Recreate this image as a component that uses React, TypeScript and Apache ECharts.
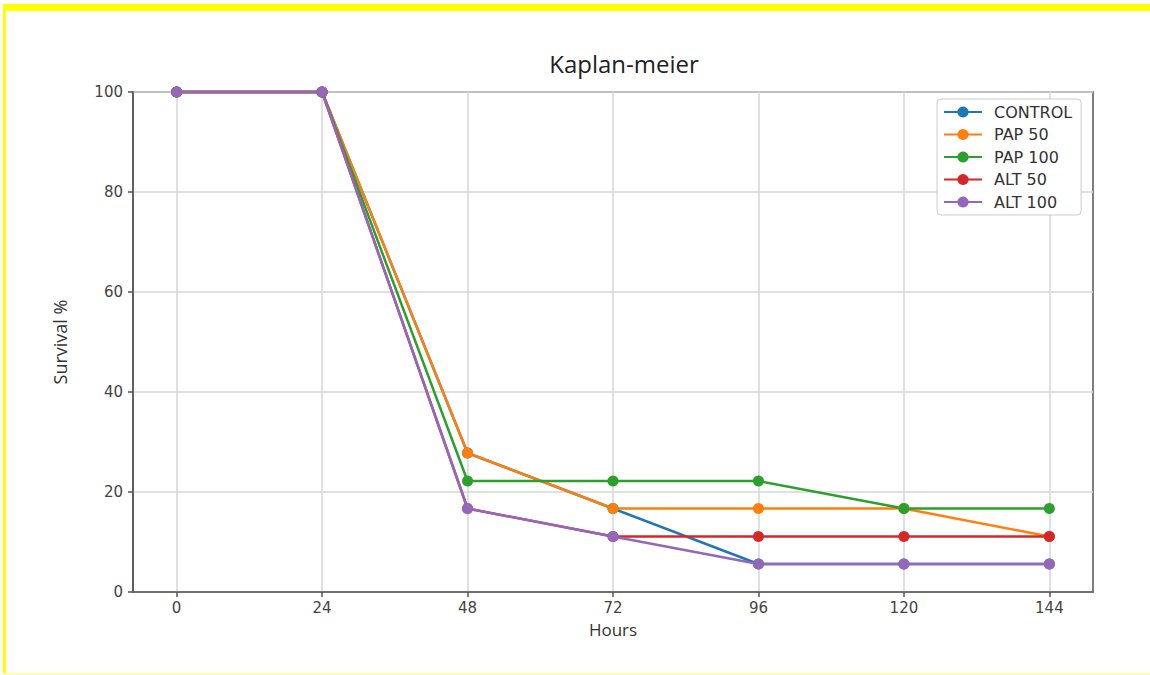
import React, { useEffect, useRef } from "react";
import * as echarts from "echarts";

const hours = [0, 24, 48, 72, 96, 120, 144];
const yTicks = [0, 20, 40, 60, 80, 100];
const seriesNames = ["CONTROL", "PAP 50", "PAP 100", "ALT 50", "ALT 100"];
const control = [100, 100, 27.8, 16.7, 5.6, 5.6, 5.6];
const pap50 = [100, 100, 27.8, 16.7, 16.7, 16.7, 11.1];
const pap100 = [100, 100, 22.2, 22.2, 22.2, 16.7, 16.7];
const alt50 = [100, 100, 16.7, 11.1, 11.1, 11.1, 11.1];
const alt100 = [100, 100, 16.7, 11.1, 5.6, 5.6, 5.6];
const colors = ["#1f77b4", "#ff7f0e", "#2ca02c", "#d62728", "#9467bd"];

export default function App() {
  const ref = useRef<HTMLDivElement>(null);
  useEffect(() => {
    if (!ref.current) return;
    const chart = echarts.init(ref.current, undefined, { renderer: "svg" });
    const allData = [control, pap50, pap100, alt50, alt100];
    const tickFont = { fontFamily: "DejaVu Sans", fontSize: 15, color: "#444" };
    chart.setOption({
      animation: false,
      backgroundColor: "#ffffff",
      color: colors,
      title: {
        text: "Kaplan-meier",
        left: 619,
        top: 46,
        textAlign: "center",
        textStyle: { fontFamily: "Open Sans", fontSize: 24, fontWeight: "normal", color: "#222" },
      },
      graphic: [
        { type: "rect", shape: { x: 3, y: 4, width: 1147, height: 7 }, style: { fill: "#ffff00" } },
        { type: "rect", shape: { x: 3, y: 4, width: 3, height: 671 }, style: { fill: "#ffff00" } },
        { type: "rect", shape: { x: 3, y: 673, width: 1147, height: 2 }, style: { fill: "#ffffb0" } },
      ],
      legend: {
        orient: "vertical",
        left: 937,
        top: 99,
        padding: [5, 9, 5, 6],
        itemWidth: 38,
        itemHeight: 14,
        itemGap: 6.5,
        borderColor: "#cccccc",
        borderWidth: 1,
        borderRadius: 4,
        backgroundColor: "#ffffff",
        data: seriesNames,
        textStyle: { fontFamily: "DejaVu Sans", fontSize: 16, color: "#333", padding: [0, 0, 0, 7], lineHeight: 14, height: 14 },
      },
      grid: {
        left: 133,
        right: 57,
        top: 92,
        bottom: 83,
        show: true,
        borderColor: "#555",
        borderWidth: 1.5,
        backgroundColor: "transparent",
      },
      xAxis: {
        type: "value",
        min: -7.2,
        max: 151.2,
        name: "Hours",
        nameLocation: "middle",
        nameGap: 29,
        nameTextStyle: { fontFamily: "Open Sans", fontSize: 17, color: "#333" },
        axisLine: { show: true, onZero: false, lineStyle: { color: "#555", width: 1.5 } },
        axisTick: { show: true, length: 5, customValues: hours, lineStyle: { color: "#555", width: 1.5 } },
        axisLabel: { customValues: hours, margin: 8, ...tickFont },
        splitLine: { show: true, lineStyle: { color: "#d6d6d6", width: 1.5 } },
      },
      yAxis: {
        type: "value",
        min: 0,
        max: 100,
        interval: 20,
        name: "Survival %",
        nameLocation: "middle",
        nameGap: 64,
        nameTextStyle: { fontFamily: "Open Sans", fontSize: 18, color: "#333" },
        axisLine: { show: true, onZero: false, lineStyle: { color: "#555", width: 1.5 } },
        axisTick: { show: true, length: 5, lineStyle: { color: "#555", width: 1.5 } },
        axisLabel: { margin: 10, ...tickFont },
        splitLine: { show: true, lineStyle: { color: "#d6d6d6", width: 1.5 } },
      },
      series: seriesNames.map((name, i) => ({
        name,
        type: "line",
        data: hours.map((h, j) => [h, allData[i][j]]),
        symbol: "circle",
        symbolSize: 11,
        lineStyle: { width: 2.5, color: colors[i] },
        itemStyle: { color: colors[i] },
        clip: false,
      })),
    });
    return () => chart.dispose();
  }, []);
  return (
    <div
      ref={ref}
      style={{ position: "fixed", left: 0, top: 0, width: 1150, height: 675 }}
    />
  );
}
